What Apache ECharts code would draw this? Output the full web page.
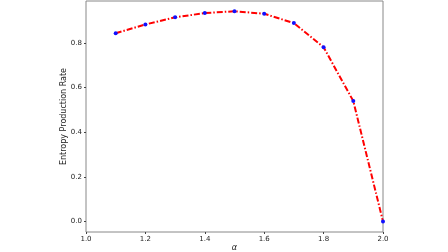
<!DOCTYPE html>
<html><head><meta charset="utf-8">
<script src="https://cdn.jsdelivr.net/npm/echarts@6/dist/echarts.min.js"></script>
<style>html,body{margin:0;padding:0;background:#fff}#c{width:448px;height:252px}</style>
</head><body><div id="c"></div>
<script>
const alphas = [1.1, 1.2, 1.3, 1.4, 1.5, 1.6, 1.7, 1.8, 1.9, 2.0];
const rates = [0.843, 0.882, 0.914, 0.933, 0.941, 0.930, 0.888, 0.780, 0.539, 0.0];
const xTicks = [1.0, 1.2, 1.4, 1.6, 1.8, 2.0];
const yTicks = [0.0, 0.2, 0.4, 0.6, 0.8];

const chart = echarts.init(document.getElementById('c'), null, {renderer: 'canvas'});
const font = 'DejaVu Sans';
chart.setOption({
  animation: false,
  grid: {left: 86, right: 65, top: 1, bottom: 20, outerBoundsMode: 'none', containLabel: false,
    show: true, borderColor: '#888', borderWidth: 1, backgroundColor: '#fff'},
  xAxis: {
    type: 'value', min: 1.0, max: 2.0,
    name: 'α', nameLocation: 'middle', nameGap: 12, nameMoveOverlap: false,
    nameTextStyle: {fontFamily: font, fontSize: 8, fontStyle: 'italic', color: '#222'},
    axisLine: {show: false, onZero: false},
    splitLine: {show: false},
    axisTick: {show: true, length: 2, lineStyle: {color: '#444'}, customValues: xTicks},
    axisLabel: {fontFamily: font, fontSize: 7, color: '#222', margin: 4, customValues: xTicks,
      formatter: v => v.toFixed(1)}
  },
  yAxis: {
    type: 'value', min: -0.047, max: 0.987,
    name: 'Entropy Production Rate', nameLocation: 'middle', nameGap: 18, nameRotate: 90,
    nameMoveOverlap: false,
    nameTextStyle: {fontFamily: font, fontSize: 8, color: '#222'},
    axisLine: {show: false, onZero: false},
    splitLine: {show: false},
    axisTick: {show: true, length: 2, lineStyle: {color: '#444'}, customValues: yTicks},
    axisLabel: {fontFamily: font, fontSize: 7, color: '#222', margin: 4, customValues: yTicks,
      formatter: v => v.toFixed(1)}
  },
  series: [{
    type: 'line',
    data: alphas.map((a, i) => [a, rates[i]]),
    lineStyle: {color: '#ff0000', width: 2, type: [6, 2, 1.5, 2]},
    symbol: 'circle', symbolSize: 4,
    itemStyle: {color: '#1010ff'},
    clip: false
  }]
});
</script></body></html>
